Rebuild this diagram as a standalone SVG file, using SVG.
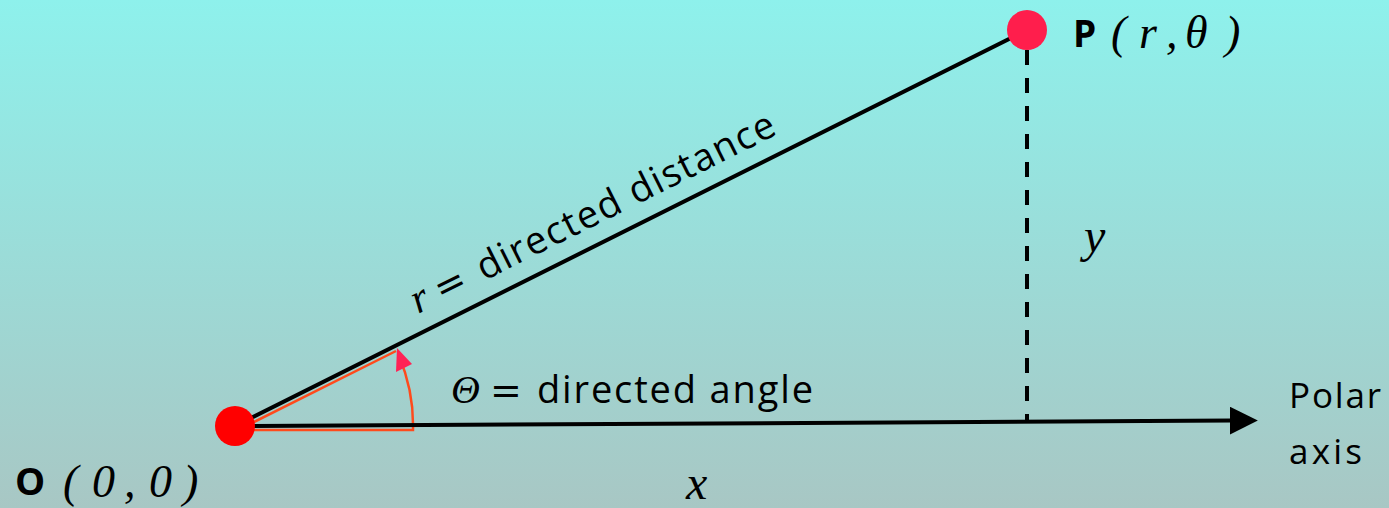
<svg xmlns="http://www.w3.org/2000/svg" width="1389" height="508" viewBox="0 0 1389 508">
<defs>
<linearGradient id="bg" x1="0" y1="0" x2="0" y2="1">
<stop offset="0" stop-color="#8EF1EC"/>
<stop offset="1" stop-color="#A8C7C4"/>
</linearGradient>
<marker id="arrow" markerUnits="userSpaceOnUse" markerWidth="28" markerHeight="28" viewBox="0 0 26 26" refX="2" refY="13" orient="auto">
<path d="M0,0 L26,13 L0,26 Z" fill="#000"/>
</marker>
<style>
.sans{font-family:"Open Sans","DejaVu Sans",sans-serif;fill:#000}
.bold{font-family:"Open Sans","DejaVu Sans",sans-serif;font-weight:bold;fill:#000}
.math{font-family:"Liberation Serif","DejaVu Serif",serif;font-style:italic;fill:#000}
.eq{font-family:"DejaVu Sans",sans-serif;fill:#000}
.blk{stroke:#000;stroke-width:4;fill:none}
.ang{stroke:#FF4A1C;stroke-width:2.5;fill:none}
</style>
</defs>
<rect width="1389" height="508" fill="url(#bg)"/>
<g id="connectors">
<path class="ang" d="M237,430.5 L396,351"/>
<path class="ang" d="M240,430 L413,430 A178,178 0 0 0 399,356"/>
<polygon points="397,348 396,372 412,364" fill="#FF2255"/>
<line class="blk" x1="235" y1="426" x2="1027" y2="30"/>
<line class="blk" x1="235" y1="426" x2="1232" y2="420.6" marker-end="url(#arrow)"/>
<line class="blk" x1="1027" y1="50" x2="1027" y2="422" stroke-dasharray="15 13"/>
</g>
<g id="node-O">
<circle cx="235" cy="426" r="20" fill="#FF0000"/>
<text class="bold" x="15" y="495" font-size="38">O</text>
<text class="math" font-size="46" y="497"><tspan x="63">(</tspan><tspan x="92">0</tspan><tspan x="124">,</tspan><tspan x="149">0</tspan><tspan x="183">)</tspan></text>
</g>
<g id="node-P">
<circle cx="1027" cy="30" r="20" fill="#FF1E4C"/>
<text class="bold" x="1073" y="47" font-size="37">P</text>
<text class="math" font-size="46" y="48"><tspan x="1111">(</tspan><tspan x="1139">r</tspan><tspan x="1166">,</tspan><tspan x="1185">θ</tspan><tspan x="1225">)</tspan></text>
</g>
<g id="label-r" transform="rotate(-26.565 418 314)">
<text class="math" x="418" y="314" font-size="42">r</text>
<text class="eq" x="444" y="314" font-size="38">=</text>
<text class="sans" x="492" y="314" font-size="38" textLength="329" lengthAdjust="spacing">directed distance</text>
</g>
<g id="label-theta">
<text class="math" x="451" y="403" font-size="40">Θ</text>
<text class="eq" x="490" y="403" font-size="38">=</text>
<text class="sans" x="537" y="403" font-size="38" textLength="276" lengthAdjust="spacing">directed angle</text>
</g>
<g id="label-y">
<text class="math" x="1084" y="252" font-size="48">y</text>
</g>
<g id="label-x">
<text class="math" x="686" y="499" font-size="48">x</text>
</g>
<g id="label-polar">
<text class="sans" x="1289" y="408" font-size="35" textLength="92" lengthAdjust="spacing">Polar</text>
<text class="sans" x="1289" y="464" font-size="35" textLength="73" lengthAdjust="spacing">axis</text>
</g>
</svg>
